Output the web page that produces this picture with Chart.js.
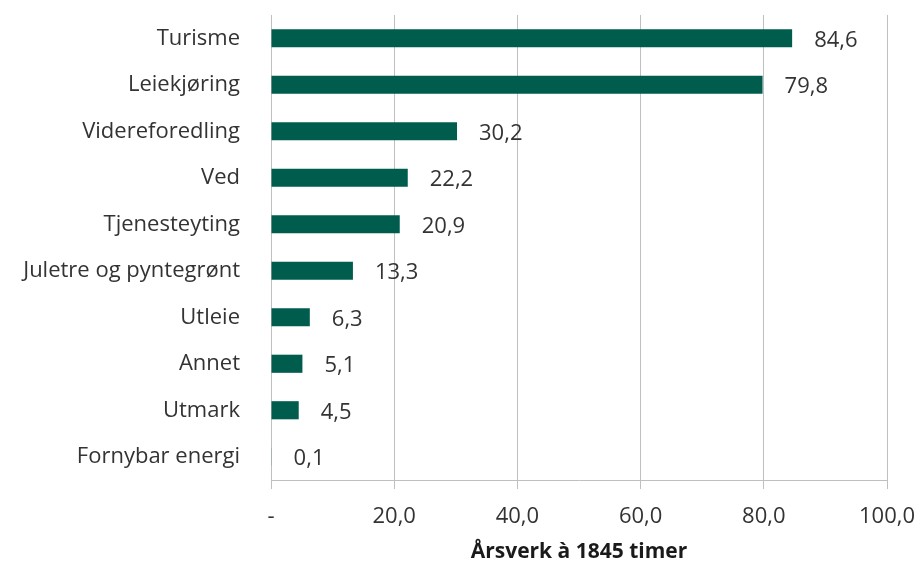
<!DOCTYPE html>
<html>
<head>
<meta charset="utf-8">
<script src="https://cdn.jsdelivr.net/npm/chart.js@4"></script>
<style>
html,body{margin:0;padding:0;background:#fff;}
#wrap{width:922px;height:565px;}
</style>
</head>
<body>
<div id="wrap"><canvas id="c" width="922" height="565"></canvas></div>
<script>
const categories = ["Turisme","Leiekjøring","Videreforedling","Ved","Tjenesteyting","Juletre og pyntegrønt","Utleie","Annet","Utmark","Fornybar energi"];
const values = [84.6,79.8,30.2,22.2,20.9,13.3,6.3,5.1,4.5,0.1];
const xTicks = [0,20,40,60,80,100];
const axisTitle = "Årsverk à 1845 timer";

const fmt = v => v === 0 ? "-" : v.toFixed(1).replace(".", ",");
const FONT = "'Open Sans', Lato, sans-serif";
const TXT = "#333333";

const labelPlugin = {
  id: "valLabels",
  afterDatasetsDraw(chart) {
    const ctx = chart.ctx;
    const meta = chart.getDatasetMeta(0);
    ctx.save();
    ctx.font = "22px " + FONT;
    ctx.fillStyle = TXT;
    ctx.textAlign = "left";
    ctx.textBaseline = "middle";
    meta.data.forEach((bar, i) => {
      ctx.fillText(fmt(values[i]), bar.x + 22, bar.y + 2);
    });
    ctx.restore();
  }
};

new Chart(document.getElementById("c"), {
  type: "bar",
  data: {
    labels: categories,
    datasets: [{
      data: values,
      backgroundColor: "#005C4D",
      borderWidth: 0,
      barPercentage: 0.39,
      categoryPercentage: 1.0
    }]
  },
  options: {
    indexAxis: "y",
    responsive: false,
    animation: false,
    layout: { padding: { top: 15, right: 35, left: 0, bottom: 0 } },
    plugins: { legend: { display: false }, tooltip: { enabled: false } },
    scales: {
      x: {
        min: 0, max: 100,
        afterBuildTicks(scale) { scale.ticks = xTicks.map(v => ({ value: v })); },
        afterFit(scale) { scale.height = 85; scale.paddingLeft = 0; scale.paddingRight = 0; },
        grid: { color: "#bfbfbf", lineWidth: 1, tickLength: 9, drawTicks: true },
        border: { display: true, color: "#bfbfbf" },
        ticks: {
          font: { family: FONT, size: 22 },
          color: TXT,
          padding: 15,
          maxRotation: 0,
          callback: (v) => fmt(v)
        },
        title: {
          display: true,
          text: axisTitle,
          font: { family: FONT, size: 21, weight: "bold" },
          color: "#1a1a1a",
          padding: { top: 0, bottom: 0 }
        }
      },
      y: {
        afterFit(scale) { scale.width = 271; scale.paddingTop = 0; scale.paddingBottom = 0; },
        grid: { display: false, drawTicks: false },
        border: { display: true, color: "#bfbfbf" },
        ticks: {
          font: { family: FONT, size: 22 },
          color: TXT,
          padding: 31
        }
      }
    }
  },
  plugins: [labelPlugin]
});
</script>
</body>
</html>
